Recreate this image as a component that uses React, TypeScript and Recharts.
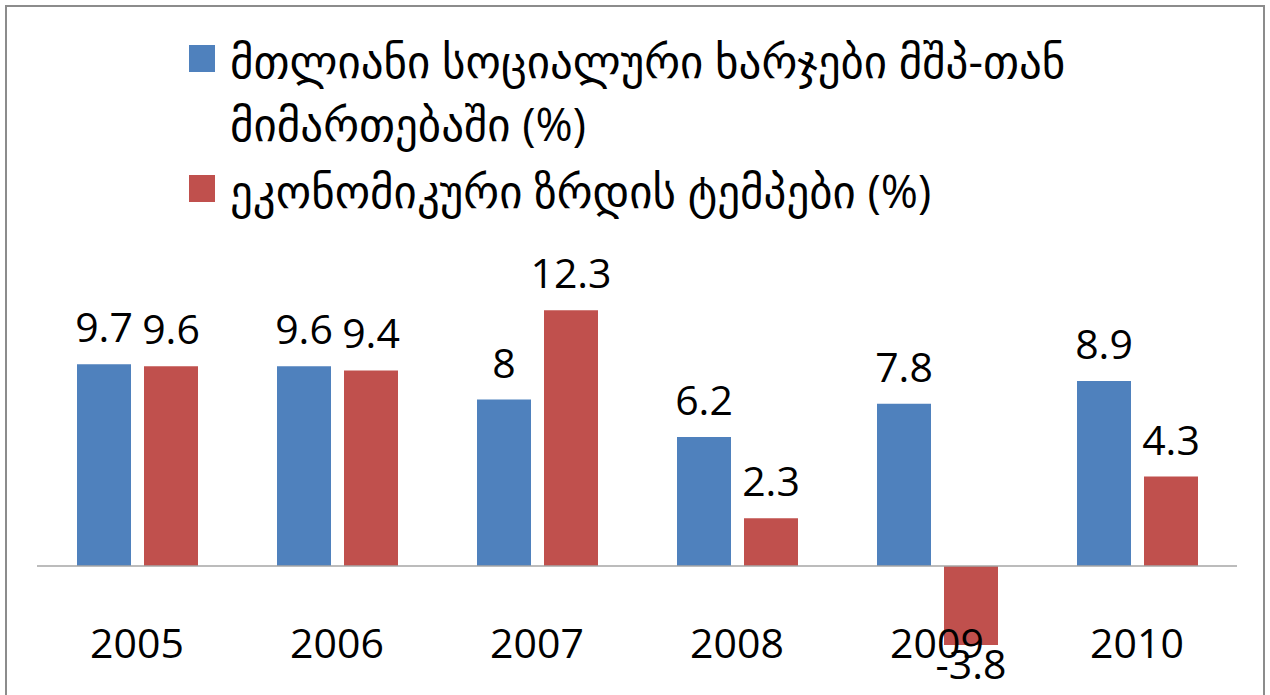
import React from "react";
import {
  BarChart,
  Bar,
  XAxis,
  YAxis,
  Legend,
  LabelList,
  ReferenceLine,
} from "recharts";

const years = ["2005", "2006", "2007", "2008", "2009", "2010"];
const socialSpending = [9.7, 9.6, 8, 6.2, 7.8, 8.9];
const growthRate = [9.6, 9.4, 12.3, 2.3, -3.8, 4.3];
const seriesNames = [
  "მთლიანი სოციალური ხარჯები მშპ-თან მიმართებაში (%)",
  "ეკონომიკური ზრდის ტემპები (%)",
];
const seriesColors = ["#4F81BD", "#C0504D"];

const data = years.map((year, i) => ({
  year,
  social: socialSpending[i],
  growth: growthRate[i],
}));

const numFont = "'Open Sans', 'Liberation Sans', sans-serif";

const renderLabel = (props: any) => {
  const { x, y, width, height, value } = props;
  const cx = Number(x) + Number(width) / 2;
  const top = Math.min(Number(y), Number(y) + Number(height));
  const bottom = Math.max(Number(y), Number(y) + Number(height));
  const baseline = value >= 0 ? top - 22 : bottom + 34;
  return (
    <text
      x={cx}
      y={baseline}
      textAnchor="middle"
      fontSize={41}
      fontFamily={numFont}
      fill="#000"
    >
      {value}
    </text>
  );
};

const YearTick = (props: any) => {
  const { x, payload } = props;
  return (
    <text
      x={x}
      y={658}
      textAnchor="middle"
      fontSize={41}
      fontFamily={numFont}
      fill="#000"
    >
      {payload.value}
    </text>
  );
};

const ChartLegend = () => (
  <div
    style={{
      fontFamily: "'Open Sans', 'DejaVu Sans', sans-serif",
      fontSize: 45,
      color: "#000",
    }}
  >
    {seriesNames.map((name, i) => (
      <div
        key={name}
        style={{ display: "flex", alignItems: "flex-start", marginBottom: 4 }}
      >
        <div
          style={{
            width: 26,
            height: 27,
            background: seriesColors[i],
            marginTop: 16,
            marginRight: 15,
            flexShrink: 0,
          }}
        />
        <div style={{ width: 1000, lineHeight: "63px" }}>{name}</div>
      </div>
    ))}
  </div>
);

export default function App() {
  return (
    <div
      style={{
        position: "absolute",
        left: 0,
        top: 0,
        width: 1270,
        height: 695,
        overflow: "hidden",
        background: "#fff",
      }}
    >
      {/* frame of the pasted chart, bottom edge is cut off */}
      <div
        style={{
          position: "absolute",
          left: 5,
          top: 5,
          width: 1256,
          height: 740,
          border: "2px solid #8c8c8c",
        }}
      />
      <div style={{ position: "absolute", left: 0, top: 0 }}>
        <BarChart
          width={1270}
          height={695}
          data={data}
          margin={{ top: 274.8, right: 33, bottom: 15.8, left: 37 }}
          barSize={54}
          barGap={13}
        >
          <XAxis
            dataKey="year"
            axisLine={false}
            tickLine={false}
            height={30}
            tick={<YearTick />}
            interval={0}
          />
          <YAxis hide domain={[-4, 14]} />
          <Legend
            verticalAlign="middle"
            align="center"
            layout="horizontal"
            wrapperStyle={{ top: 29, left: 189, width: 1060 }}
            content={<ChartLegend />}
          />
          <Bar
            dataKey="social"
            name={seriesNames[0]}
            fill={seriesColors[0]}
            isAnimationActive={false}
          >
            <LabelList dataKey="social" content={renderLabel} />
          </Bar>
          <Bar
            dataKey="growth"
            name={seriesNames[1]}
            fill={seriesColors[1]}
            isAnimationActive={false}
          >
            <LabelList dataKey="growth" content={renderLabel} />
          </Bar>
          <ReferenceLine y={0} stroke="#a6a6a6" strokeWidth={1.5} />
        </BarChart>
      </div>
    </div>
  );
}
